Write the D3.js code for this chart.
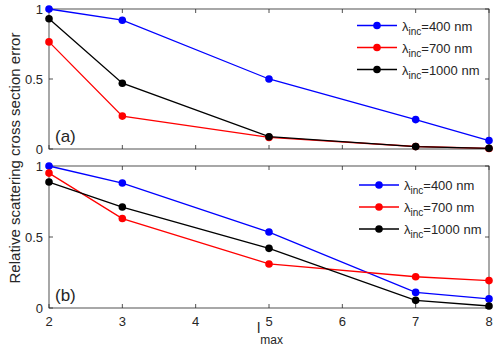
<!DOCTYPE html>
<html>
<head>
<meta charset="utf-8">
<script src="https://cdn.jsdelivr.net/npm/d3@7"></script>
<style>
  body { margin: 0; background: #fff; }
  text { font-family: "Liberation Sans", Arial, sans-serif; fill: #262626; }
</style>
</head>
<body>
<div id="chart"></div>
<script>
// data
var lmax = [2, 3, 5, 7, 8];
var xTicks = [2, 3, 4, 5, 6, 7, 8];
var yTicks = [0, 0.5, 1];
var seriesNames = ["400", "700", "1000"];
var seriesColors = ["#0000ff", "#ff0000", "#000000"];

// panel (a)
var a400 = [1.0, 0.92, 0.50, 0.21, 0.06];
var a700 = [0.765, 0.235, 0.083, 0.018, 0.004];
var a1000 = [0.93, 0.47, 0.088, 0.017, 0.005];
// panel (b)
var b400 = [1.0, 0.88, 0.535, 0.11, 0.064];
var b700 = [0.95, 0.63, 0.31, 0.22, 0.193];
var b1000 = [0.887, 0.711, 0.42, 0.054, 0.014];

var W = 498, H = 350;
var svg = d3.select("#chart").append("svg")
    .attr("width", W).attr("height", H);

var x = d3.scaleLinear().domain([2, 8]).range([49, 489]);

function panel(top, bottom, series, tag, legY, legX, showXLabels) {
  var y = d3.scaleLinear().domain([0, 1]).range([bottom, top]);
  var g = svg.append("g");

  // box
  g.append("rect")
      .attr("x", x(2)).attr("y", top)
      .attr("width", x(8) - x(2)).attr("height", bottom - top)
      .attr("fill", "none").attr("stroke", "#262626").attr("stroke-width", 0.8);

  // ticks inward, on all 4 sides
  xTicks.forEach(function(t) {
    g.append("line").attr("x1", x(t)).attr("x2", x(t))
        .attr("y1", bottom).attr("y2", bottom - 4).attr("stroke", "#262626").attr("stroke-width", 0.8);
    g.append("line").attr("x1", x(t)).attr("x2", x(t))
        .attr("y1", top).attr("y2", top + 4).attr("stroke", "#262626").attr("stroke-width", 0.8);
    if (showXLabels) {
      g.append("text").attr("x", x(t)).attr("y", bottom + 18)
          .attr("text-anchor", "middle").attr("font-size", 13).text(t);
    }
  });
  yTicks.forEach(function(t) {
    g.append("line").attr("x1", x(2)).attr("x2", x(2) + 4)
        .attr("y1", y(t)).attr("y2", y(t)).attr("stroke", "#262626").attr("stroke-width", 0.8);
    g.append("line").attr("x1", x(8)).attr("x2", x(8) - 4)
        .attr("y1", y(t)).attr("y2", y(t)).attr("stroke", "#262626").attr("stroke-width", 0.8);
    g.append("text").attr("x", x(2) - 6).attr("y", y(t) + 5)
        .attr("text-anchor", "end").attr("font-size", 13).text(t);
  });

  var line = d3.line()
      .x(function(d, i) { return x(lmax[i]); })
      .y(function(d) { return y(d); });

  series.forEach(function(s, k) {
    g.append("path").datum(s).attr("d", line)
        .attr("fill", "none").attr("stroke", seriesColors[k]).attr("stroke-width", 1.3);
    g.selectAll(".m" + k).data(s).enter().append("circle")
        .attr("cx", function(d, i) { return x(lmax[i]); })
        .attr("cy", function(d) { return y(d); })
        .attr("r", 3.8).attr("fill", seriesColors[k]);
  });

  // panel tag
  g.append("text").attr("x", 55).attr("y", bottom - 7)
      .attr("font-size", 17).text(tag);

  // legend
  seriesNames.forEach(function(n, k) {
    var ly = legY + k * 22;
    g.append("line").attr("x1", legX).attr("x2", legX + 40)
        .attr("y1", ly).attr("y2", ly)
        .attr("stroke", seriesColors[k]).attr("stroke-width", 1.3);
    g.append("circle").attr("cx", legX + 20).attr("cy", ly).attr("r", 3.8)
        .attr("fill", seriesColors[k]);
    var t = g.append("text").attr("x", legX + 45).attr("y", ly + 5).attr("font-size", 13);
    t.append("tspan").text("\u03bb");
    t.append("tspan").attr("font-size", 10).attr("dy", 4).text("inc");
    t.append("tspan").attr("dy", -4).text("=" + n + " nm");
  });
}

panel(9, 149, [a400, a700, a1000], "(a)", 25.5, 357, false);
panel(166, 308, [b400, b700, b1000], "(b)", 185, 359, true);

// axis labels
svg.append("text")
    .attr("transform", "translate(20,158) rotate(-90)")
    .attr("text-anchor", "middle").attr("font-size", 15)
    .text("Relative scattering cross section error");

var xl = svg.append("text").attr("x", 257).attr("y", 333).attr("font-size", 15);
xl.append("tspan").text("l");
xl.append("tspan").attr("font-size", 12).attr("dy", 11).text("max");
</script>
</body>
</html>
